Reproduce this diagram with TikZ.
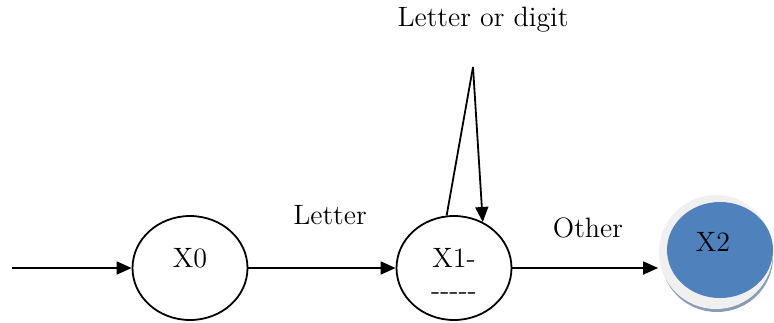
\documentclass[tikz,border=0pt]{standalone}
\usepackage[dvipsnames,svgnames,x11names]{xcolor}
\usepackage{tikz}
\usetikzlibrary{arrows.meta, shapes.geometric}

\definecolor{stateblue}{HTML}{4F81BD}
\definecolor{rimgray}{HTML}{F0F0F0}
\definecolor{rimshade}{HTML}{8A9BB5}

\begin{document}
\begin{tikzpicture}[x=0.5pt, y=-0.5pt, line width=0.9pt,
    font=\fontsize{14}{16}\selectfont,
    state/.style={draw, ellipse, minimum width=57.5pt, minimum height=52pt},
    trans/.style={-{Triangle[length=7.5pt, width=6.5pt]}}]
	\useasboundingbox (0,0) rectangle (774,322);
	
	% Estados
	\node[state, label={[yshift=5pt]center:X0}] (x0) at (190,268) {};
	\node[state, label={[yshift=-3pt, align=center]center:X1-\\-{}-{}-{}-{}-}] (x1) at (454,268) {};
	
	% Estado final: disco gris con borde sombreado y relleno azul
	\node[ellipse, fill=rimshade, minimum width=56pt, minimum height=55pt] (x2shade) at (717,257) {};
	\node[ellipse, fill=rimgray, minimum width=57pt, minimum height=57pt] (x2rim) at (716,252) {};
	\node[ellipse, fill=stateblue, minimum width=53pt, minimum height=48pt,
	      label={[xshift=-3.5pt, yshift=4pt]center:X2}] (x2) at (720,250) {};
	
	% Transiciones
	\coordinate (start) at (12,268);
	\coordinate (looptop) at (473,67);
	\draw[trans] (start) -- (x0);
	\draw[trans] (x0) -- (x1);
	\draw[trans] (x1.east) -- (x1.east -| x2rim.west);
	\draw (x1.98) -- (looptop);
	\draw[trans] (looptop) -- (x1.58);
	
	% Etiquetas
	\node (lletter) at (330,215) {Letter};
	\node (lother) at (588,228) {Other};
	\node (lloop) at (483,20) {Letter or digit};
	
\end{tikzpicture}
\end{document}
